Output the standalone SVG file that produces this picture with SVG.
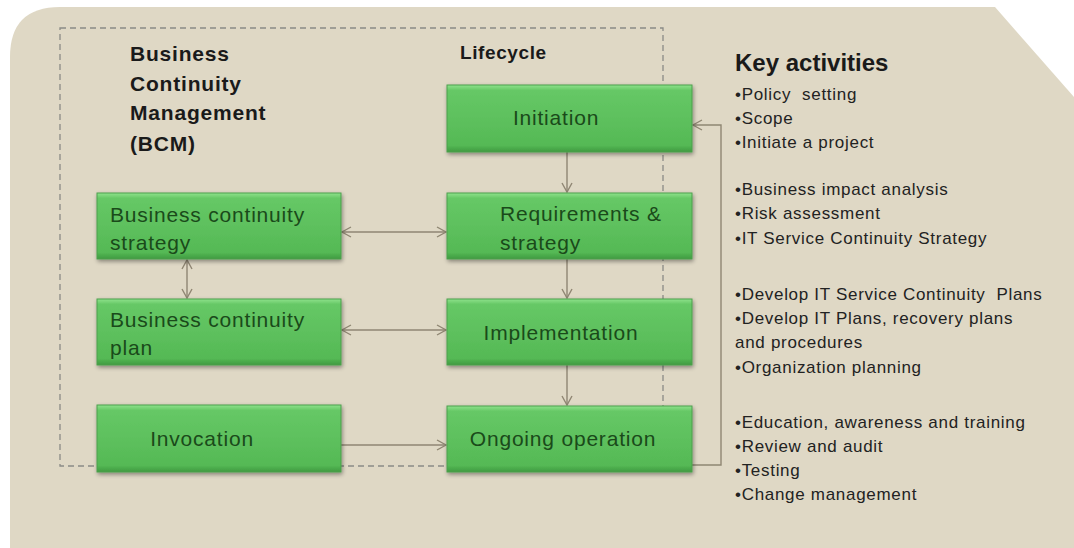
<svg xmlns="http://www.w3.org/2000/svg" width="1074" height="548" viewBox="0 0 1074 548">
<defs>
<linearGradient id="g" x1="0" y1="0" x2="0" y2="1">
<stop offset="0" stop-color="#8ee28c"/>
<stop offset="0.08" stop-color="#66c866"/>
<stop offset="0.9" stop-color="#55b955"/>
<stop offset="1" stop-color="#3f9a40"/>
</linearGradient>
<filter id="sh" x="-5%" y="-10%" width="110%" height="130%">
<feGaussianBlur in="SourceAlpha" stdDeviation="2"/>
<feOffset dx="1" dy="2" result="b"/>
<feComponentTransfer><feFuncA type="linear" slope="0.4"/></feComponentTransfer>
<feMerge><feMergeNode/><feMergeNode in="SourceGraphic"/></feMerge>
</filter>
<marker id="ah" markerWidth="12" markerHeight="12" refX="10" refY="6" orient="auto-start-reverse" markerUnits="userSpaceOnUse">
<path d="M1,1 L10,6 L1,11" fill="none" stroke="#8f8673" stroke-width="1.4"/>
</marker>
</defs>
<style>
.node{fill:url(#g);stroke:#4c9f4c;stroke-width:1;filter:url(#sh)}
.nt{font-family:"Liberation Sans",Arial,sans-serif;font-size:21px;letter-spacing:0.8px;fill:#1a4a1a}
.hd{font-family:"Liberation Sans",Arial,sans-serif;font-weight:bold;font-size:21px;letter-spacing:0.8px;fill:#1a1a1a}
.ka{font-family:"Liberation Sans",Arial,sans-serif;font-size:17px;letter-spacing:0.7px;fill:#222;white-space:pre}
.cn{fill:none;stroke:#8f8673;stroke-width:1.4}
</style>
<rect width="1074" height="548" fill="#ffffff"/>
<path d="M60,7 L995,7 L1074,97 L1074,548 L10,548 L10,57 Q10,7 60,7 Z" fill="#dfd8c5"/>
<rect x="60" y="28" width="603" height="438" fill="none" stroke="#8a8a86" stroke-width="1.3" stroke-dasharray="6,4"/>
<g id="connectors">
<line class="cn" x1="567" y1="152" x2="567" y2="192" marker-end="url(#ah)"/>
<line class="cn" x1="567" y1="259" x2="567" y2="298" marker-end="url(#ah)"/>
<line class="cn" x1="567" y1="365" x2="567" y2="405" marker-end="url(#ah)"/>
<line class="cn" x1="342" y1="232" x2="446" y2="232" marker-start="url(#ah)" marker-end="url(#ah)"/>
<line class="cn" x1="342" y1="330" x2="446" y2="330" marker-start="url(#ah)" marker-end="url(#ah)"/>
<line class="cn" x1="341" y1="445" x2="446" y2="445" marker-end="url(#ah)"/>
<line class="cn" x1="187" y1="260" x2="187" y2="298" marker-start="url(#ah)" marker-end="url(#ah)" stroke-width="2"/>
<polyline class="cn" points="692,465 721,465 721,125 693,125" marker-end="url(#ah)"/>
</g>
<g id="title-bcm">
<text class="hd" x="130" y="61">Business</text>
<text class="hd" x="130" y="91">Continuity</text>
<text class="hd" x="130" y="120">Management</text>
<text class="hd" x="130" y="151">(BCM)</text>
</g>
<g id="title-lifecycle"><text class="hd" x="460" y="59" style="font-size:19px;letter-spacing:0.6px">Lifecycle</text></g>
<g id="n-initiation"><rect class="node" x="447" y="85" width="245" height="67"/><text class="nt" x="556" y="125" text-anchor="middle">Initiation</text></g>
<g id="n-requirements"><rect class="node" x="447" y="193" width="245" height="66"/><text class="nt" x="500" y="221">Requirements &amp;</text><text class="nt" x="500" y="250">strategy</text></g>
<g id="n-implementation"><rect class="node" x="447" y="299" width="245" height="66"/><text class="nt" x="561" y="340" text-anchor="middle">Implementation</text></g>
<g id="n-ongoing"><rect class="node" x="447" y="406" width="245" height="66"/><text class="nt" x="563" y="446" text-anchor="middle">Ongoing operation</text></g>
<g id="n-bcstrategy"><rect class="node" x="97" y="193" width="244" height="66"/><text class="nt" x="110" y="222">Business continuity</text><text class="nt" x="110" y="250">strategy</text></g>
<g id="n-bcplan"><rect class="node" x="97" y="299" width="244" height="66"/><text class="nt" x="110" y="327">Business continuity</text><text class="nt" x="110" y="355">plan</text></g>
<g id="n-invocation"><rect class="node" x="97" y="405" width="244" height="67"/><text class="nt" x="202" y="446" text-anchor="middle">Invocation</text></g>
<g id="key-activities">
<text x="735" y="71" font-family="Liberation Sans,Arial,sans-serif" font-weight="bold" font-size="24" fill="#1a1a1a">Key activities</text>
<text class="ka" x="735" y="100">•Policy  setting</text>
<text class="ka" x="735" y="124">•Scope</text>
<text class="ka" x="735" y="148">•Initiate a project</text>
<text class="ka" x="735" y="195">•Business impact analysis</text>
<text class="ka" x="735" y="219">•Risk assessment</text>
<text class="ka" x="735" y="244">•IT Service Continuity Strategy</text>
<text class="ka" x="735" y="300">•Develop IT Service Continuity  Plans</text>
<text class="ka" x="735" y="324">•Develop IT Plans, recovery plans</text>
<text class="ka" x="735" y="348">and procedures</text>
<text class="ka" x="735" y="373">•Organization planning</text>
<text class="ka" x="735" y="428">•Education, awareness and training</text>
<text class="ka" x="735" y="452">•Review and audit</text>
<text class="ka" x="735" y="476">•Testing</text>
<text class="ka" x="735" y="500">•Change management</text>
</g>
</svg>
